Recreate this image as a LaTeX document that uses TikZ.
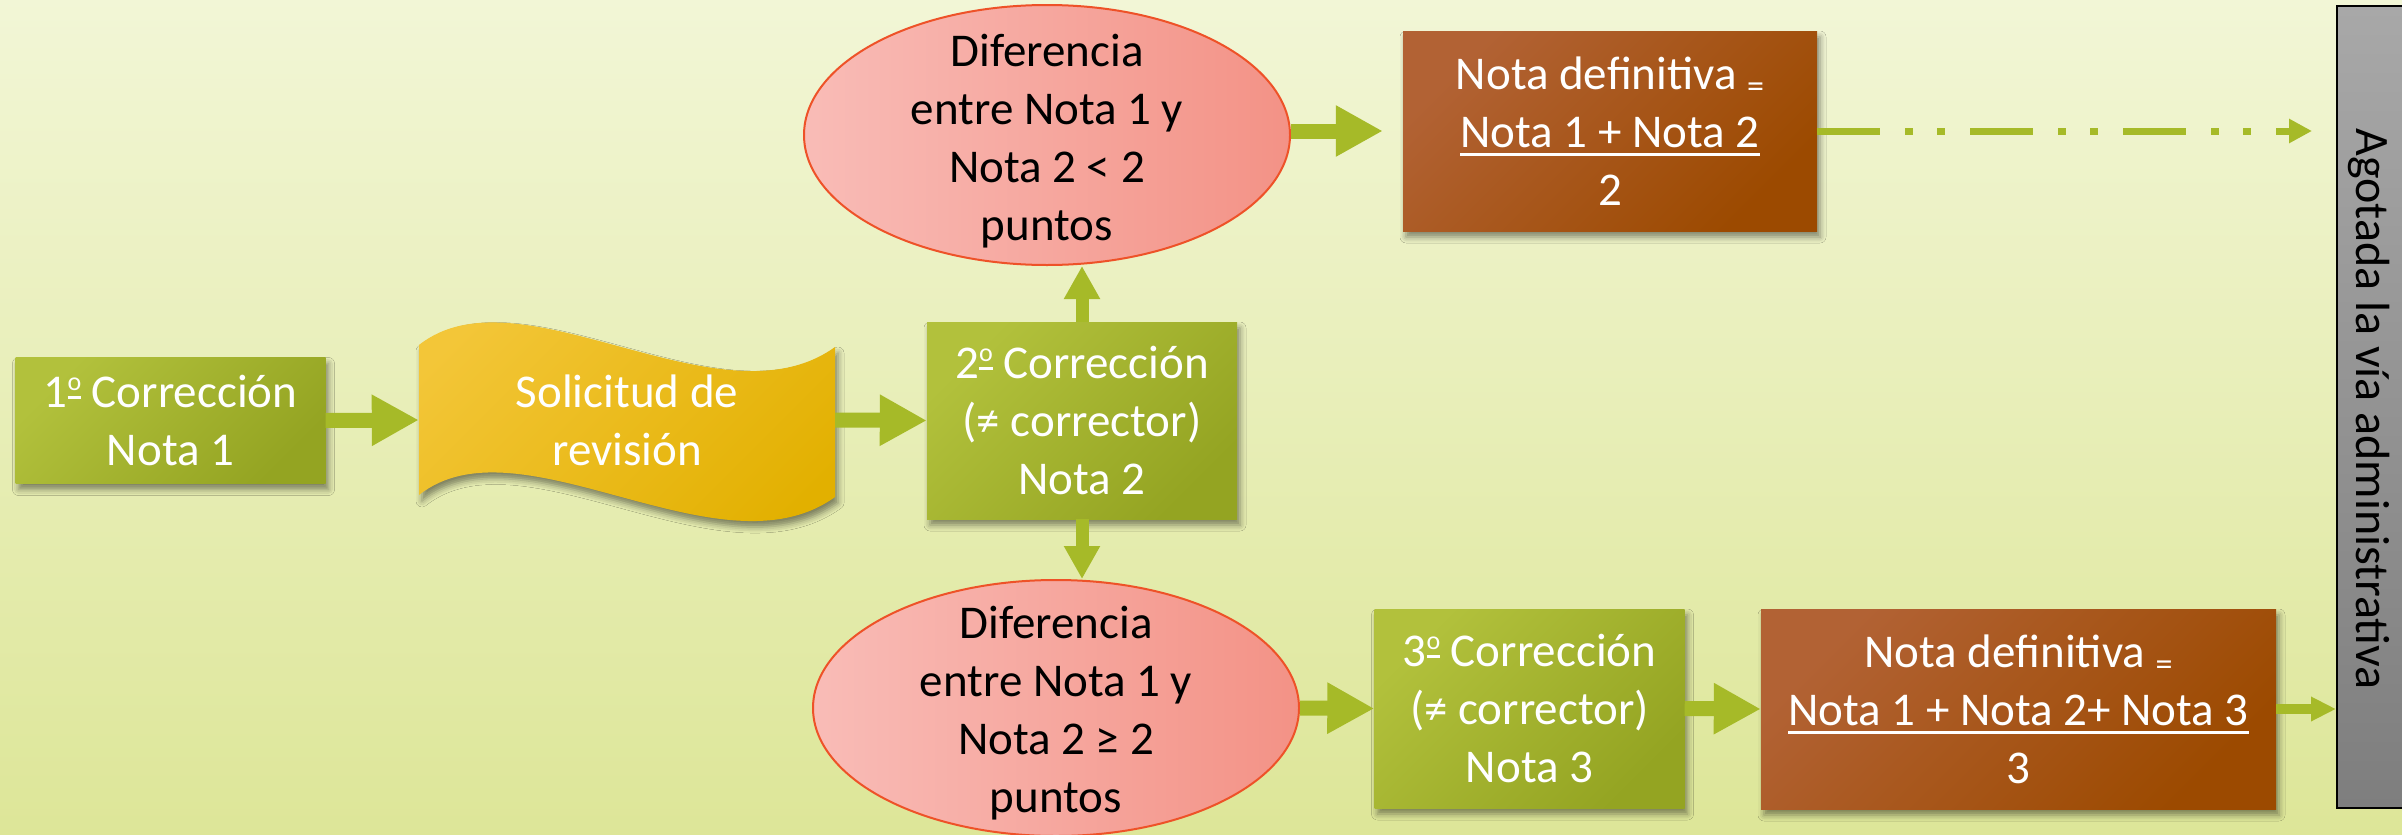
\documentclass[tikz,border=0pt]{standalone}
\usepackage{fontspec}
\setmainfont{Carlito}
\usetikzlibrary{arrows.meta,shapes.geometric,shadows.blur}
\definecolor{bgtop}{RGB}{242,246,214}
\definecolor{bgbot}{RGB}{221,230,152}
\definecolor{grnA}{RGB}{178,193,60}
\definecolor{grnB}{RGB}{148,164,34}
\definecolor{arrowgreen}{RGB}{166,186,40}
\definecolor{ylwA}{RGB}{243,198,56}
\definecolor{ylwB}{RGB}{226,176,0}
\definecolor{brnA}{RGB}{178,98,52}
\definecolor{brnM}{RGB}{168,80,2}
\definecolor{brnB}{RGB}{156,74,0}
\definecolor{pinkA}{RGB}{249,188,183}
\definecolor{pinkB}{RGB}{243,146,134}
\definecolor{pinkEdge}{RGB}{238,82,40}
\definecolor{greyA}{RGB}{168,168,168}
\definecolor{greyB}{RGB}{126,126,126}
\newcommand\fracline[1]{\setbox0\hbox{#1}\rlap{\rule[-9pt]{\wd0}{3pt}}\box0}
\newcommand\smalleq{{\fontsize{34}{34}\selectfont\raisebox{-8pt}{=}}}
\newcommand\ordo{\raisebox{17pt}{\setbox0\hbox{\fontsize{26}{26}\selectfont o}\rlap{\rule[-8pt]{\wd0}{2.5pt}}\box0}}
\tikzset{
  bigfont/.style={font=\fontsize{47}{58}\selectfont},
  shadowed/.style={blur shadow={shadow xshift=3pt,shadow yshift=-6pt,shadow blur radius=6pt,shadow opacity=45}},
  greenbox/.style={rectangle, inner sep=0pt, top color=grnA, bottom color=grnB, shading angle=45, text=white, align=center, bigfont, shadowed},
  brownbox/.style={rectangle, inner sep=0pt, top color=brnA, middle color=brnM, bottom color=brnB, shading angle=45, text=white, align=center, bigfont, shadowed},
  pinkell/.style={ellipse, inner sep=0pt, draw=pinkEdge, line width=2pt, left color=pinkA, right color=pinkB},
  elltext/.style={align=center, bigfont, text=black},
  blockarrow/.style={draw=arrowgreen, line width=15pt, -{Triangle[length=47pt,width=48pt]}, arrowgreen},
  vertarrow/.style={draw=arrowgreen, line width=13pt, -{Triangle[length=33pt,width=34pt]}, arrowgreen},
  smallarrow/.style={draw=arrowgreen, line width=10pt, -{Triangle[length=25pt,width=23pt]}, arrowgreen},
  dasharrow/.style={draw=arrowgreen, line width=7pt, dash pattern=on 63pt off 25pt on 8pt off 24pt on 8pt off 25pt, -{Triangle[length=23pt,width=23pt]}, arrowgreen},
}
\begin{document}
\begin{tikzpicture}[x=1pt,y=-1pt]
\useasboundingbox (0,0) rectangle (2402,835);
\shade[top color=bgtop, bottom color=bgbot] (0,0) rectangle (2402,835);

% grey side panel
\node[rectangle, inner sep=0pt, draw=black, line width=2pt, top color=greyA, bottom color=greyB, minimum width=90pt, minimum height=802pt] (grey) at (2382,407) {};
\node[rotate=-90, font=\fontsize{48}{56}\selectfont, text=black] (gtext) at (2369,409) {Agotada la vía administrativa};

% first correction
\node[greenbox, minimum width=310pt, minimum height=126pt] (b1) at (170.5,420.5) {1\ordo\ Corrección\\Nota 1};

% wave shape
\shade[top color=ylwA, bottom color=ylwB, shading angle=45, shadowed]
  (419,345) .. controls (520,265) and (720,430) .. (835,347)
  -- (835,497) .. controls (720,580) and (520,415) .. (419,495) -- cycle;
\node[rectangle, inner sep=0pt, minimum width=416pt, minimum height=150pt, text=white, align=center, bigfont] (sol) at (627,420) {Solicitud de\\revisión};

% second correction
\node[greenbox, minimum width=310pt, minimum height=197pt] (b2) at (1082,420.5) {2\ordo\ Corrección\\(≠ corrector)\\Nota 2};

% ellipses
\node[pinkell, minimum width=486pt, minimum height=260pt] (e1) at (1047,135) {};
\node[elltext] (e1t) at ([yshift=-6pt]e1.center) {Diferencia\\entre Nota 1 y\\Nota 2 < 2\\puntos};
\node[pinkell, minimum width=486pt, minimum height=256pt] (e2) at (1056,708) {};
\node[elltext] (e2t) at ([yshift=-5pt]e2.center) {Diferencia\\entre Nota 1 y\\Nota 2 ≥ 2\\puntos};

% results
\node[brownbox, minimum width=414pt, minimum height=200pt] (b3) at (1610,131) {Nota definitiva \smalleq\\\fracline{Nota 1 + Nota 2}\\2};
\node[greenbox, minimum width=310pt, minimum height=199pt] (b4) at (1529.5,708.5) {3\ordo\ Corrección\\(≠ corrector)\\Nota 3};
\node[brownbox, minimum width=515pt, minimum height=200pt] (b5) at (2018.5,709) {Nota definitiva \smalleq\\\fracline{Nota 1 + Nota 2+ Nota 3}\\3};

% connectors
\draw[blockarrow] (b1.east) -- (sol.west);
\draw[blockarrow] (sol.east) -- (b2.west);
\draw[vertarrow] (b2.north) -- (b2.north |- e1.south);
\draw[vertarrow] (b2.south) -- (b2.south |- e2.north);
\draw[blockarrow, shorten >=20pt] (e1.east |- b3.west) -- (b3.west);
\draw[blockarrow] (e2.east) -- (b4.west);
\draw[blockarrow] (b4.east) -- (b5.west);
\draw[smallarrow] (b5.east) -- (b5.east -| grey.west);
\draw[dasharrow, shorten >=24pt] (b3.east) -- (b3.east -| grey.west);
\end{tikzpicture}
\end{document}
